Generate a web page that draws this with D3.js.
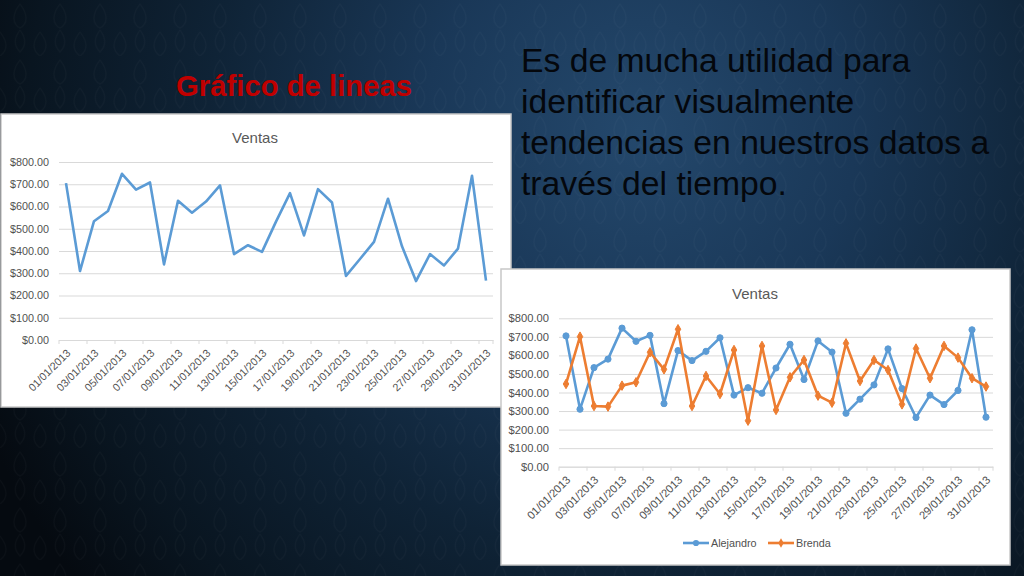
<!DOCTYPE html>
<html>
<head>
<meta charset="utf-8">
<script src="https://cdn.jsdelivr.net/npm/d3@7"></script>
<style>
  html, body { margin: 0; padding: 0; background: #0b1724; }
  svg { display: block; }
</style>
</head>
<body>
<svg id="slide" width="1024" height="576"></svg>
<script>
// ---- data ----
const dates = ["01/01/2013","02/01/2013","03/01/2013","04/01/2013","05/01/2013","06/01/2013","07/01/2013","08/01/2013",
  "09/01/2013","10/01/2013","11/01/2013","12/01/2013","13/01/2013","14/01/2013","15/01/2013","16/01/2013",
  "17/01/2013","18/01/2013","19/01/2013","20/01/2013","21/01/2013","22/01/2013","23/01/2013","24/01/2013",
  "25/01/2013","26/01/2013","27/01/2013","28/01/2013","29/01/2013","30/01/2013","31/01/2013"];
const alejandro = [705,310,534,580,747,676,708,340,626,572,622,695,386,426,396,532,660,470,678,618,288,364,441,635,421,265,386,335,411,738,267];
const brenda = [446,701,327,324,437,455,617,525,741,327,489,392,629,248,651,306,482,575,383,345,665,462,575,521,336,637,477,651,588,477,432];
const yTicks = [0,100,200,300,400,500,600,700,800];
const seriesNames = ["Alejandro","Brenda"];
const seriesColors = ["#5b9bd5","#ed7d31"];
const slideTitle = "Gráfico de lineas";
const chartTitle = "Ventas";
const paragraph = ["Es de mucha utilidad para","identificar visualmente","tendencias en nuestros datos a","través del tiempo."];

const svg = d3.select("#slide");
const defs = svg.append("defs");

// ---- background ----
const rg = defs.append("radialGradient").attr("id","bg")
  .attr("gradientUnits","userSpaceOnUse").attr("cx",640).attr("cy",130).attr("r",720);
[[0,"#24486c"],[0.3,"#1a3858"],[0.6,"#0f2336"],[0.85,"#091520"],[1,"#050a10"]]
  .forEach(([o,c]) => rg.append("stop").attr("offset",o).attr("stop-color",c));
svg.append("rect").attr("width",1024).attr("height",576).attr("fill","url(#bg)");

// very subtle damask-like texture
const pat = defs.append("pattern").attr("id","damask").attr("patternUnits","userSpaceOnUse")
  .attr("width",40).attr("height",56);
pat.append("path").attr("d","M20 4 C28 14 28 24 20 28 C12 24 12 14 20 4 Z M0 32 C8 42 8 50 0 56 M40 32 C32 42 32 50 40 56 M20 30 C26 38 26 46 20 52 C14 46 14 38 20 30")
  .attr("fill","none").attr("stroke","#ffffff").attr("stroke-width",1.2).attr("opacity",0.022);
svg.append("rect").attr("width",1024).attr("height",576).attr("fill","url(#damask)");

// ---- slide texts ----
svg.append("text").attr("x",176).attr("y",96)
  .attr("font-family","Liberation Sans, Arial, sans-serif").attr("font-weight","bold")
  .attr("font-size",29.3).attr("fill","#c00000").text(slideTitle);

svg.append("g").selectAll("text").data(paragraph).join("text")
  .attr("x",521).attr("y",(d,i)=>72 + i*41)
  .attr("font-family","Liberation Sans, Arial, sans-serif").attr("font-size",33.7)
  .attr("fill","#04070c").text(d=>d);

// ---- chart drawing ----
function drawChart(cfg) {
  const g = svg.append("g");
  g.append("rect").attr("x",cfg.box[0]).attr("y",cfg.box[1])
    .attr("width",cfg.box[2]).attr("height",cfg.box[3])
    .attr("fill","#ffffff").attr("stroke","#c8c8c8").attr("stroke-width",1.5);

  const x = d3.scalePoint().domain(dates).range(cfg.xr).padding(0.5);
  const y = d3.scaleLinear().domain([0,800]).range(cfg.yr);
  const step = x.step();

  g.append("text").attr("x",cfg.titleX).attr("y",cfg.titleY).attr("text-anchor","middle")
    .attr("font-family","Liberation Sans, Arial, sans-serif").attr("font-size",15)
    .attr("fill","#595959").text(chartTitle);

  // y axis with gridlines
  const ya = g.append("g").attr("transform",`translate(${cfg.xr[0]},0)`)
    .call(d3.axisLeft(y).tickValues(yTicks).tickFormat(d3.format("$.2f"))
      .tickSize(-(cfg.xr[1]-cfg.xr[0])).tickPadding(10));
  ya.select(".domain").remove();
  ya.selectAll(".tick line").attr("stroke","#d9d9d9").attr("stroke-width",1);
  ya.selectAll(".tick text").attr("fill","#505050")
    .attr("font-family","Liberation Sans, Arial, sans-serif").attr("font-size",cfg.fs);

  // x axis
  const xa = g.append("g").attr("transform",`translate(0,${cfg.yr[0]})`)
    .call(d3.axisBottom(x).tickValues(dates.filter((d,i)=>i%2===0)).tickSize(0));
  xa.select(".domain").attr("stroke","#d9d9d9");
  xa.selectAll(".tick text").attr("fill","#505050").style("fill","#505050")
    .attr("font-family","Liberation Sans, Arial, sans-serif").attr("font-size",cfg.fs)
    .attr("x",0).attr("y",0).attr("dy","0.35em").attr("text-anchor","end")
    .attr("transform","translate(2,11) rotate(-45)");
  // tick marks at category boundaries every two categories
  g.append("g").selectAll("line").data(dates.filter((d,i)=>i%2===0)).join("line")
    .attr("x1",d=>x(d)-step/2).attr("x2",d=>x(d)-step/2)
    .attr("y1",cfg.yr[0]).attr("y2",cfg.yr[0]+4).attr("stroke","#d9d9d9");
  g.append("line").attr("x1",cfg.xr[1]).attr("x2",cfg.xr[1])
    .attr("y1",cfg.yr[0]).attr("y2",cfg.yr[0]+4).attr("stroke","#d9d9d9");

  const line = d3.line().x((d,i)=>x(dates[i])).y(d=>y(d));
  cfg.series.forEach((s,si) => {
    g.append("path").datum(s.values).attr("d",line).attr("fill","none")
      .attr("stroke",s.color).attr("stroke-width",2.6).attr("stroke-linejoin","round");
    if (cfg.markers) {
      const sym = si === 0 ? d3.symbolCircle : d3.symbolDiamond;
      const sz = si === 0 ? 30 : 26;
      g.append("g").selectAll("path").data(s.values).join("path")
        .attr("transform",(d,i)=>`translate(${x(dates[i])},${y(d)})`)
        .attr("d",d3.symbol().type(sym).size(sz)).attr("fill",s.color).attr("stroke",s.color);
    }
  });

  if (cfg.legend) {
    const lg = g.append("g");
    cfg.series.forEach((s,si) => {
      const lx = cfg.legend[si];
      lg.append("line").attr("x1",lx).attr("x2",lx+26).attr("y1",cfg.legendY).attr("y2",cfg.legendY)
        .attr("stroke",s.color).attr("stroke-width",2.6);
      lg.append("path").attr("transform",`translate(${lx+13},${cfg.legendY})`)
        .attr("d",d3.symbol().type(si===0?d3.symbolCircle:d3.symbolDiamond).size(si===0?30:26))
        .attr("fill",s.color);
      lg.append("text").attr("x",lx+28).attr("y",cfg.legendY).attr("dy","0.35em")
        .attr("font-family","Liberation Sans, Arial, sans-serif").attr("font-size",10.8)
        .attr("fill","#505050").text(s.name);
    });
  }
}

drawChart({
  box:[1,114,510,293], xr:[59,493], yr:[340,162], titleX:255, titleY:143, fs:10.8,
  series:[{name:seriesNames[0], values:alejandro, color:seriesColors[0]}], markers:false
});

drawChart({
  box:[501,269,509,296], xr:[559,993], yr:[466.7,318.3], titleX:755, titleY:299, fs:11.2,
  series:[{name:seriesNames[0], values:alejandro, color:seriesColors[0]},
          {name:seriesNames[1], values:brenda, color:seriesColors[1]}],
  markers:true, legend:[683,768], legendY:543
});
</script>
</body>
</html>
